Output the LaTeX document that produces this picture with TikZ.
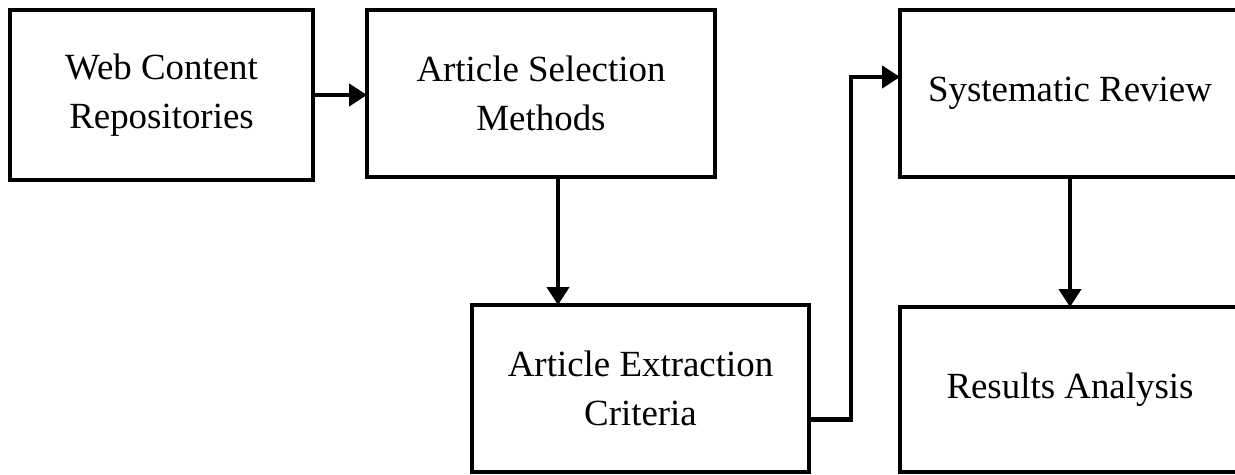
\documentclass[tikz,border=0pt]{standalone}
\usepackage{fontspec}
\setmainfont{Liberation Serif}
\usetikzlibrary{arrows.meta}

\begin{document}
\begin{tikzpicture}[x = 0.02cm, y = -0.02cm]
\tikzstyle{boxStyle}=[draw, line width = 2.4pt, outer sep = 0pt, align = center, font = \fontsize{21pt}{28pt}\selectfont]
\tikzstyle{arrowStyle}=[line width = 2.4pt, -{Triangle[length = 0.36cm, width = 0.44cm]}]
\useasboundingbox (0,0) rectangle (1235,475);
\clip (0,0) rectangle (1235,475);
\node[boxStyle, minimum width = 6.06cm, minimum height = 3.4cm] (web) at (161.5, 95) {Web Content\\Repositories};
\node[boxStyle, minimum width = 6.96cm, minimum height = 3.34cm] (sel) at (541, 93.5) {Article Selection\\Methods};
\node[boxStyle, minimum width = 6.74cm, minimum height = 3.34cm] (ext) at (640.5, 388.5) {Article Extraction\\Criteria};
\node[boxStyle, minimum width = 6.8cm, minimum height = 3.34cm] (rev) at (1070, 93.5) {Systematic Review};
\node[boxStyle, minimum width = 6.8cm, minimum height = 3.3cm] (res) at (1070, 389.5) {Results Analysis};
\draw[arrowStyle] (web.east) -- (web.east -| sel.west);
\draw[arrowStyle] ([xshift = 0.34cm]sel.south) -- ([xshift = 0.34cm]sel.south |- ext.north);
\draw[arrowStyle] ([yshift = -0.62cm]ext.east) -- ++(0.84cm,0) |- ([yshift = 0.33cm]rev.west);
\draw[arrowStyle] (rev.south) -- (res.north);
\end{tikzpicture}
\end{document}
